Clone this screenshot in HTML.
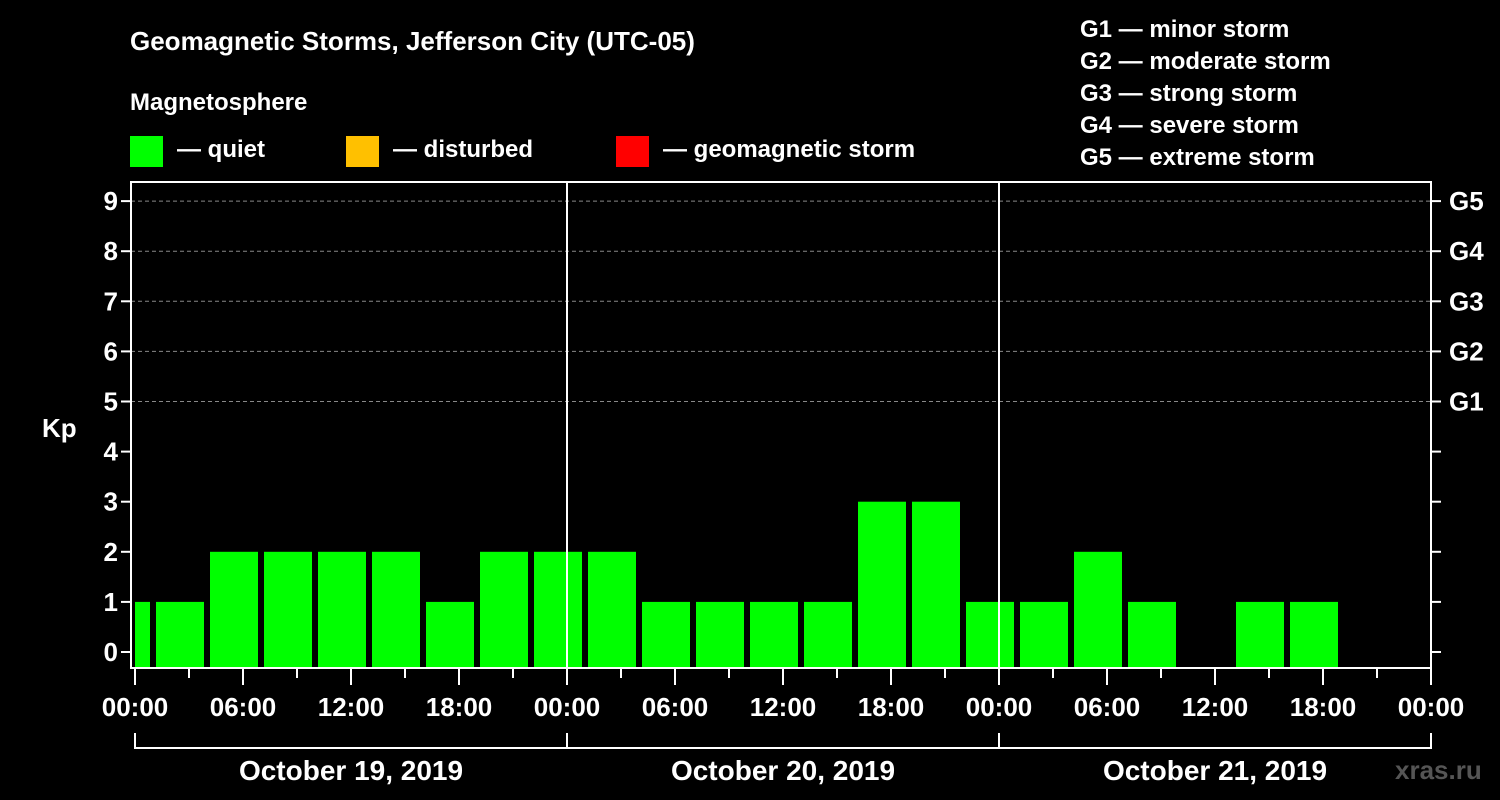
<!DOCTYPE html>
<html><head><meta charset="utf-8"><style>
body{margin:0;background:#000;}
svg{display:block;font-family:"Liberation Sans",Arial,sans-serif;font-weight:bold;}
</style></head><body>
<svg width="1500" height="800" viewBox="0 0 1500 800">
<rect width="1500" height="800" fill="#000"/>
<text x="130" y="50" fill="#fff" font-size="26">Geomagnetic Storms, Jefferson City (UTC-05)</text>
<text x="130" y="110" fill="#fff" font-size="24">Magnetosphere</text>
<g><rect x="130" y="136" width="33" height="31" fill="#00ff00"/><text x="177" y="157" fill="#fff" font-size="24">— quiet</text></g>
<g><rect x="346" y="136" width="33" height="31" fill="#ffc000"/><text x="393" y="157" fill="#fff" font-size="24">— disturbed</text></g>
<g><rect x="616" y="136" width="33" height="31" fill="#ff0000"/><text x="663" y="157" fill="#fff" font-size="24">— geomagnetic storm</text></g>
<g fill="#fff" font-size="24">
<text x="1080" y="37">G1 — minor storm</text>
<text x="1080" y="69">G2 — moderate storm</text>
<text x="1080" y="101">G3 — strong storm</text>
<text x="1080" y="133">G4 — severe storm</text>
<text x="1080" y="165">G5 — extreme storm</text>
</g>
<text x="42" y="437" fill="#fff" font-size="26">Kp</text>
<text x="1395" y="779" fill="#555" font-size="26">xras.ru</text>
<g id="plot"></g>
</svg>
<script>
const kpValues=[1,1,2,2,2,2,1,2,2,2,1,1,1,1,3,3,1,1,2,1,null,1,1];
const yTicks=[0,1,2,3,4,5,6,7,8,9];
const gLabels=["","","","","","G1","G2","G3","G4","G5"];
const dayLabels=["October 19, 2019","October 20, 2019","October 21, 2019"];
const hourLabels=["00:00","06:00","12:00","18:00"];
const firstSlotHour=-2;
const L=131,R=1431,T=182,B=668,X0=135,PXH=18;
const xs=h=>X0+h*PXH;
const ys=v=>652-v*50.1;
const NS="http://www.w3.org/2000/svg";
const g=document.getElementById('plot');
function mk(t,a,p){const e=document.createElementNS(NS,t);for(const k in a)e.setAttribute(k,a[k]);(p||g).appendChild(e);return e;}
// grid
for(let v=5;v<=9;v++){const e=mk('line',{x1:L,x2:R,y1:ys(v),y2:ys(v),stroke:'#888','stroke-dasharray':'4,3','stroke-width':1});

}
// bars
kpValues.forEach((v,i)=>{if(v===null)return;
let x1=xs(firstSlotHour+3*i)+3,x2=x1+48;x1=Math.max(x1,L+4);x2=Math.min(x2,R);
const e=mk('rect',{x:x1,y:ys(v),width:x2-x1,height:B-ys(v),fill:'#00ff00'});

});
// day separators
for(let d=1;d<3;d++){const e=mk('line',{x1:xs(24*d),x2:xs(24*d),y1:T,y2:B,stroke:'#fff','stroke-width':2});

}
// frame
const f=mk('rect',{x:L,y:T,width:R-L,height:B-T,fill:'none',stroke:'#fff','stroke-width':2});


// y ticks
yTicks.forEach((v,i)=>{const y=ys(v);
mk('line',{x1:L-10,x2:L,y1:y,y2:y,stroke:'#fff','stroke-width':2});
mk('line',{x1:R,x2:R+10,y1:y,y2:y,stroke:'#fff','stroke-width':2});
const t=mk('text',{x:L-13,y:y+9,'text-anchor':'end',fill:'#fff','font-size':26});t.textContent=v;


if(gLabels[i]){const t2=mk('text',{x:1449,y:y+9,fill:'#fff','font-size':26});t2.textContent=gLabels[i];

}});
// x ticks
for(let h=0;h<=72;h+=3){const x=xs(h),maj=h%6===0;
mk('line',{x1:x,x2:x,y1:B,y2:B+(maj?17:10),stroke:'#fff','stroke-width':2});
if(maj){const t=mk('text',{x:x,y:716,'text-anchor':'middle',fill:'#fff','font-size':26});t.textContent=hourLabels[(h/6)%4];

}}
// date brackets
mk('line',{x1:xs(0),x2:xs(72),y1:748,y2:748,stroke:'#fff','stroke-width':2});
for(let d=0;d<=3;d++)mk('line',{x1:xs(24*d),x2:xs(24*d),y1:733,y2:749,stroke:'#fff','stroke-width':2});
dayLabels.forEach((s,d)=>{const t=mk('text',{x:xs(24*d+12),y:780,'text-anchor':'middle',fill:'#fff','font-size':28});t.textContent=s;

});
</script>
</body></html>
